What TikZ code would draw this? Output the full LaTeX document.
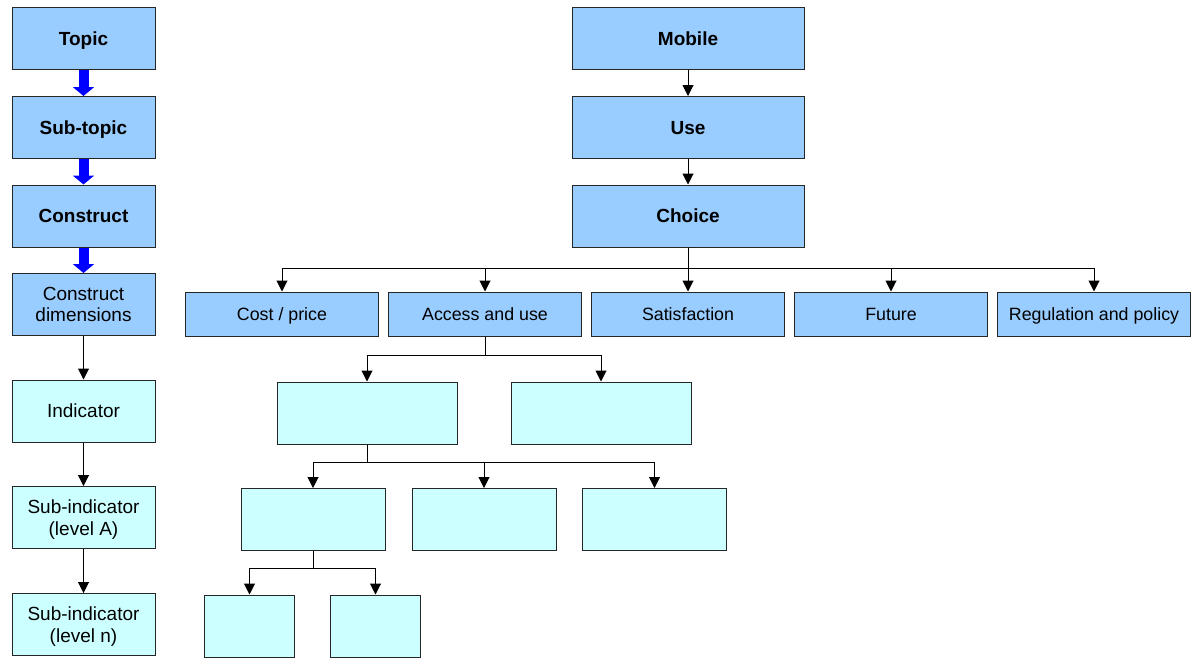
\documentclass[tikz,border=0pt]{standalone}
\usepackage{fontspec}
\setmainfont{Liberation Sans}
\usetikzlibrary{arrows.meta}
\definecolor{boxblue}{HTML}{99CCFF}
\definecolor{boxcyan}{HTML}{CCFFFF}
\definecolor{pureblue}{HTML}{0000FF}
\begin{document}
\begin{tikzpicture}[x=1pt,y=-1pt,
  every node/.style={font=\fontsize{19}{21.7}\selectfont, align=center, inner sep=0pt, text depth=0pt},
  heading/.style={font=\fontsize{19}{21.7}\selectfont\bfseries},
  box/.style={draw=black!85, line width=1pt, minimum height=62pt},
  topbox/.style={box, fill=boxblue},
  subbox/.style={box, fill=boxcyan},
  catbox/.style={box, fill=boxblue, minimum width=193pt, minimum height=44pt,
                 font=\fontsize{17.8}{21}\selectfont},
  leftbox/.style={minimum width=143pt},
  conn/.style={draw=black, line width=1pt, -{Triangle[length=11pt,width=11pt]}},
  thickarr/.style={draw=pureblue, line width=10pt, -{Triangle[length=9pt,width=21pt]}}
]
\useasboundingbox (0,0) rectangle (1191,657);

% left-hand legend column
\node[topbox, leftbox, heading] (topic) at (83.5,38.5) {Topic};
\node[topbox, leftbox, heading] (subtopic) at (83.5,127.5) {Sub-topic};
\node[topbox, leftbox, heading] (construct) at (83.5,216) {Construct};
\node[topbox, leftbox] (dims) at (83.5,304.5) {Construct\\dimensions};
\node[subbox, leftbox] (indicator) at (83.5,411) {Indicator};
\node[subbox, leftbox] (subA) at (83.5,517.5) {Sub-indicator\\(level A)};
\node[subbox, leftbox] (subN) at (83.5,624.5) {Sub-indicator\\(level n)};

\draw[thickarr] (topic) -- (subtopic);
\draw[thickarr] (subtopic) -- (construct);
\draw[thickarr] (construct) -- (dims);
\draw[conn] (dims) -- (indicator);
\draw[conn] (indicator) -- (subA);
\draw[conn] (subA) -- (subN);

% mobile hierarchy
\node[topbox, minimum width=232pt, heading] (mobile) at (688,38.5) {Mobile};
\node[topbox, minimum width=232pt, heading] (use) at (688,127.5) {Use};
\node[topbox, minimum width=232pt, heading] (choice) at (688,216) {Choice};
\draw[conn] (mobile) -- (use);
\draw[conn] (use) -- (choice);

\node[catbox] (cost) at (282,314) {Cost / price};
\node[catbox] (access) at (485,314) {Access and use};
\node[catbox] (sat) at (688,314) {Satisfaction};
\node[catbox] (future) at (891,314) {Future};
\node[catbox] (reg) at (1094,314) {Regulation and policy};

\coordinate (busA) at (688,268);
\draw[conn] (choice) -- (sat);
\draw[conn] (choice) -- (choice |- busA) -| (cost.north);
\draw[conn] (choice) -- (choice |- busA) -| (access.north);
\draw[conn] (choice) -- (choice |- busA) -| (future.north);
\draw[conn] (choice) -- (choice |- busA) -| (reg.north);

% empty sub-levels below "Access and use"
\node[subbox, minimum width=180pt] (l1a) at (367,413) {};
\node[subbox, minimum width=180pt] (l1b) at (601,413) {};
\coordinate (busB) at (485,355);
\draw[conn] (access) -- (access |- busB) -| (l1a.north);
\draw[conn] (access) -- (access |- busB) -| (l1b.north);

\node[subbox, minimum width=144pt] (l2a) at (313,519.5) {};
\node[subbox, minimum width=144pt] (l2b) at (484,519.5) {};
\node[subbox, minimum width=144pt] (l2c) at (654.5,519.5) {};
\coordinate (busC) at (367,462);
\draw[conn] (l1a) -- (l1a |- busC) -| (l2a.north);
\draw[conn] (l1a) -- (l1a |- busC) -| (l2b.north);
\draw[conn] (l1a) -- (l1a |- busC) -| (l2c.north);

\node[subbox, minimum width=90pt] (l3a) at (249.5,626) {};
\node[subbox, minimum width=90pt] (l3b) at (375.5,626) {};
\coordinate (busD) at (313,568);
\draw[conn] (l2a) -- (l2a |- busD) -| (l3a.north);
\draw[conn] (l2a) -- (l2a |- busD) -| (l3b.north);
\end{tikzpicture}
\end{document}
